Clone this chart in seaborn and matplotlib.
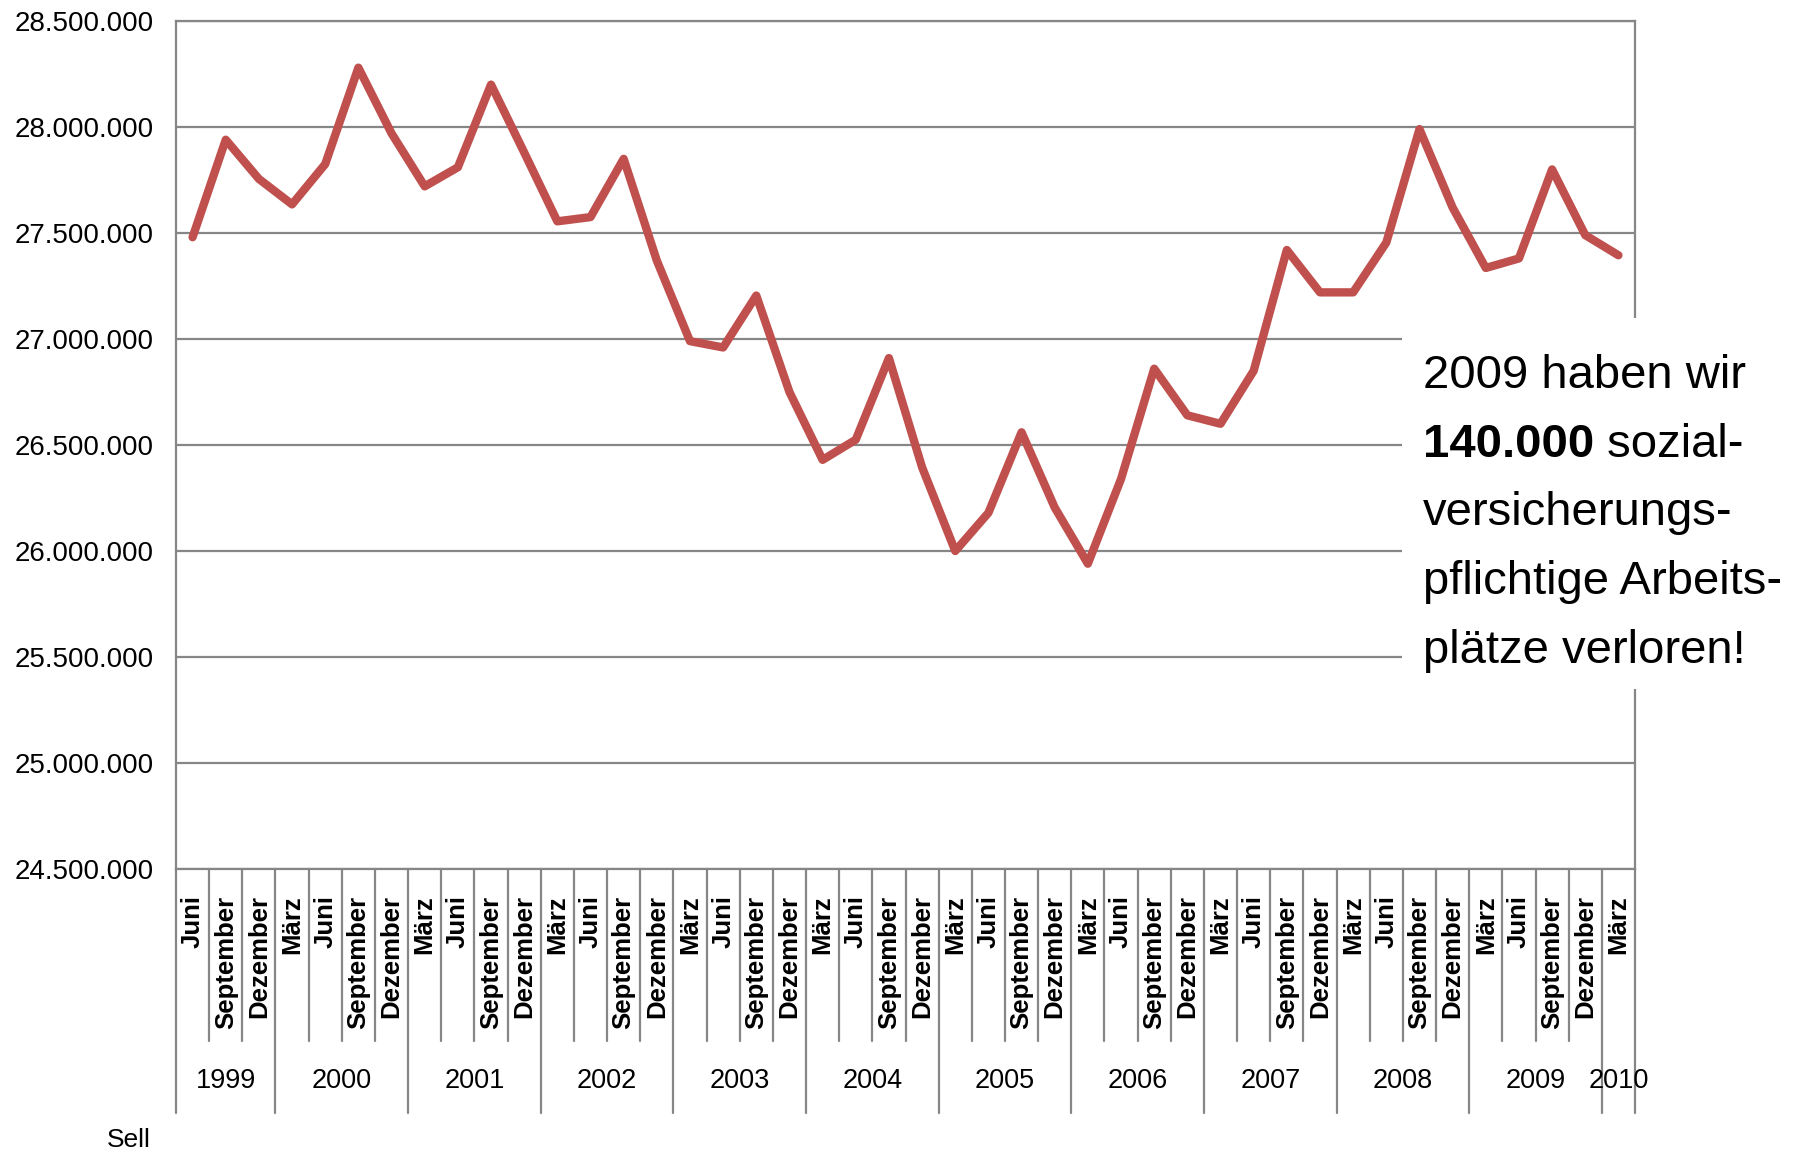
import seaborn as sns
import matplotlib.pyplot as plt
import matplotlib.ticker as mticker
from matplotlib.patches import Rectangle
import numpy as np
import pandas as pd

# Quartalswerte Juni 1999 - März 2010
years = ["1999", "2000", "2001", "2002", "2003", "2004", "2005", "2006", "2007", "2008", "2009", "2010"]
months_per_year = [
    ["Juni", "September", "Dezember"],
    ["März", "Juni", "September", "Dezember"],
    ["März", "Juni", "September", "Dezember"],
    ["März", "Juni", "September", "Dezember"],
    ["März", "Juni", "September", "Dezember"],
    ["März", "Juni", "September", "Dezember"],
    ["März", "Juni", "September", "Dezember"],
    ["März", "Juni", "September", "Dezember"],
    ["März", "Juni", "September", "Dezember"],
    ["März", "Juni", "September", "Dezember"],
    ["März", "Juni", "September", "Dezember"],
    ["März"],
]
values = [
    27480000, 27940000, 27755000,
    27635000, 27825000, 28280000, 27970000,
    27720000, 27810000, 28200000, 27880000,
    27555000, 27575000, 27850000, 27370000,
    26990000, 26960000, 27205000, 26750000,
    26430000, 26525000, 26910000, 26395000,
    26000000, 26180000, 26560000, 26205000,
    25940000, 26340000, 26860000, 26640000,
    26600000, 26850000, 27420000, 27220000,
    27220000, 27455000, 27990000, 27620000,
    27335000, 27380000, 27800000, 27490000,
    27395000,
]

months = [m for ms in months_per_year for m in ms]
df = pd.DataFrame({"pos": np.arange(len(values)), "wert": values})

sns.set_theme(style="white")
plt.rcParams["font.family"] = ["Liberation Sans", "DejaVu Sans"]
plt.rcParams["text.color"] = "black"

W, H = 1809, 1152
fig = plt.figure(figsize=(W / 100, H / 100), dpi=100)
x0, x1, ytop, ybot = 176, 1635, 21, 869
ax = fig.add_axes([x0 / W, 1 - ybot / H, (x1 - x0) / W, (ybot - ytop) / H])

grau = "#868686"
sns.lineplot(data=df, x="pos", y="wert", ax=ax, color="#C0504D", linewidth=6, zorder=3)

n = len(values)
ax.set_xlim(-0.5, n - 0.5)
ax.set_ylim(24500000, 28500000)
ax.set_yticks(np.arange(24500000, 28500001, 500000))
ax.yaxis.set_major_formatter(mticker.FuncFormatter(lambda v, p: f"{v:,.0f}".replace(",", ".")))
ax.tick_params(axis="y", length=0, pad=16, labelsize=20, labelcolor="black")
ax.grid(axis="y", color=grau, linewidth=1.6)
ax.set_xlabel("")
ax.set_ylabel("")
for s in ax.spines.values():
    s.set_color(grau)
    s.set_linewidth(1.6)

ax.set_xticks(np.arange(n))
ax.set_xticklabels(months, rotation=90, fontweight="bold", fontsize=18.5)
ax.tick_params(axis="x", length=0, pad=19, labelcolor="black")

# Kategorienbox unter der Achse
tr = ax.get_xaxis_transform()
y_kurz = (ybot - 1041) / (ybot - ytop)
y_lang = (ybot - 1113) / (ybot - ytop)
y_jahr = (ybot - 1081) / (ybot - ytop)
grenzen = np.cumsum([0] + [len(ms) for ms in months_per_year]) - 0.5
for b in np.arange(n + 1) - 0.5:
    lang = np.isclose(grenzen, b).any() or b == n - 0.5
    ax.plot([b, b], [0, y_lang if lang else y_kurz], color=grau, lw=1.6,
            transform=tr, clip_on=False, zorder=1)
for i, jahr in enumerate(years):
    mitte = (grenzen[i] + grenzen[i + 1]) / 2
    ax.text(mitte, y_jahr, jahr, transform=tr, ha="center", va="center", fontsize=19.5)

fig.text(107 / W, 1 - 1140 / H, "Sell", fontsize=19, va="center", ha="left")

# weisser Kasten mit Hinweis
fig.add_artist(Rectangle((1402 / W, 1 - 689 / H), 1 - 1402 / W, (689 - 318) / H,
                         transform=fig.transFigure, facecolor="white", edgecolor="none", zorder=5))
tx = 1423 / W
fs = 34
baselines = [388, 457, 525, 594, 663]
fig.text(tx, 1 - baselines[0] / H, "2009 haben wir", fontsize=fs, va="baseline", zorder=6)
t_bold = fig.text(tx, 1 - baselines[1] / H, "140.000", fontsize=fs, fontweight="bold", va="baseline", zorder=6)
fig.text(tx, 1 - baselines[2] / H, "versicherungs-", fontsize=fs, va="baseline", zorder=6)
fig.text(tx, 1 - baselines[3] / H, "pflichtige Arbeits-", fontsize=fs, va="baseline", zorder=6)
fig.text(tx, 1 - baselines[4] / H, "plätze verloren!", fontsize=fs, va="baseline", zorder=6)
fig.canvas.draw()
bb = t_bold.get_window_extent()
fig.text(bb.x1 / W, 1 - baselines[1] / H, " sozial-", fontsize=fs, va="baseline", zorder=6)

fig.savefig("out.png", dpi=100, facecolor="white")
plt.close(fig)
